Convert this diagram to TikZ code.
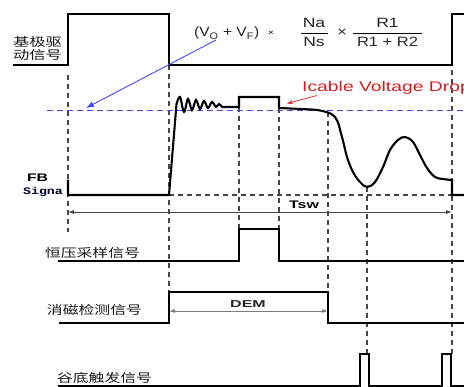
\documentclass[tikz,border=0pt]{standalone}
\usepackage{fontspec}
\setmainfont{Liberation Sans}
\newfontfamily\cjk{Noto Sans CJK SC}
\newfontfamily\monof{Liberation Mono}
\usetikzlibrary{arrows.meta}
\newcommand{\hs}[2][1.3]{\scalebox{#1}[1]{#2}}
\definecolor{sigred}{RGB}{208,32,32}
\definecolor{guideblue}{RGB}{70,70,250}
\definecolor{guidegray}{RGB}{70,70,70}
\tikzset{
  sig/.style={line width=2.1pt, line join=miter, black},
  guide/.style={line width=1.1pt, guidegray, dash pattern=on 5pt off 4pt},
  blueguide/.style={line width=1pt, guideblue, dash pattern=on 6pt off 4pt},
  lbl/.style={inner sep=0pt, text=black!90, font=\cjk\fontsize{12}{14}\selectfont},
  formula/.style={inner sep=0pt, text=black!85, font=\fontsize{13.5}{15}\selectfont},
  meas/.style={line width=0.8pt, guidegray, {Latex[length=6pt,width=4pt]}-{Latex[length=6pt,width=4pt]}},
}
\begin{document}
\begin{tikzpicture}[x=1pt,y=-1pt]
\clip (0,0) rectangle (464,387);
\fill[white] (0,0) rectangle (464,387);

% dashed guides
\draw[guide] (68,75) -- (68,232);
\draw[guide] (169,65) -- (169,292);
\draw[guide] (239,107) -- (239,229);
\draw[guide] (279,108) -- (279,229);
\draw[guide] (328,112) -- (328,292);
\draw[guide] (367,187) -- (367,354);
\draw[guide] (452,70) -- (452,354);
\draw[guide] (169,195) -- (452,195);
\draw[blueguide] (47,111) -- (464,111);

% base drive signal
\draw[sig] (13,65) -- (68,65) -- (68,14) -- (169,14) -- (169,65) -- (452,65) -- (452,14) -- (464,14);
\node[lbl, align=left] (lbase) at (37.5,48.5) {\hs[1.36]{基极驱}\\[-0.5pt]\hs[1.36]{动信号}};

% FB signal
\draw[sig] (68,180) -- (68,195) -- (169,195) -- (176.5,104)
  plot[smooth, tension=0.6] coordinates {(176.5,104) (180,97) (184,112) (188,99) (192,110) (196,100) (200,109) (204,101) (208,108) (212,102) (216,107) (219,104) (222,107)}
  -- (239,107) -- (239,97) -- (279,97) -- (279,108)
  plot[smooth, tension=0.6] coordinates {(279,108) (300,109) (320,110.5) (335,117) (342,137) (347,157) (353,172) (360,182) (367,187) (375,182) (383,167) (390,150) (398,140) (405,137) (413,142) (420,155) (427,168) (435,177) (443,179) (452,180)}
  -- (452,195) -- (464,195);
\node[inner sep=0pt, font=\bfseries\fontsize{11}{13}\selectfont] (lfb) at (37.5,177.5) {\hs[1.43]{FB}};
\node[inner sep=0pt, text=black!80!blue, font=\monof\bfseries\fontsize{10}{12}\selectfont] (lsig) at (43,191.5) {\hs[1.33]{Signa}};

% Tsw
\coordinate (tswL) at (68,212);
\coordinate (tswR) at (452,212);
\draw[meas] (tswL) -- (tswR);
\node[inner sep=0pt, font=\bfseries\fontsize{11}{13}\selectfont] (ltsw) at (304,205) {\hs[1.45]{Tsw}};

% CV sampling
\draw[sig] (58,261) -- (239,261) -- (239,229) -- (279,229) -- (279,261) -- (464,261);
\node[lbl] (lcv) at (92.5,253) {\hs[1.32]{恒压采样信号}};

% DEM
\draw[sig] (59,323) -- (169,323) -- (169,292) -- (328,292) -- (328,323) -- (464,323);
\node[lbl] (ldem) at (94.5,310) {\hs[1.32]{消磁检测信号}};
\coordinate (demL) at (169,311);
\coordinate (demR) at (328,311);
\draw[meas, guidegray!70] (demL) -- (demR);
\node[inner sep=0pt, font=\bfseries\fontsize{10}{12}\selectfont, text=black!85] (ldemt) at (248,304) {\hs[1.6]{DEM}};

% valley trigger
\draw[sig] (58,386) -- (360,386) -- (360,354) -- (369,354) -- (369,386) -- (442,386) -- (442,354) -- (451,354) -- (451,386) -- (464,386);
\node[lbl] (lval) at (104.5,378) {\hs[1.32]{谷底触发信号}};

% formula
\node[formula, anchor=base west] (fpar) at (194,37) {\hs[1.15]{(V\textsubscript{O} + V\textsubscript{F})}};
\node[inner sep=0pt, font=\fontsize{8}{9}\selectfont] (fx1) at (271,33) {\hs{×}};
\node[formula] (fna) at (314,23) {\hs{Na}};
\node[formula] (fns) at (314,42) {\hs{Ns}};
\draw[line width=0.6pt] (301,33) -- (328,33);
\node[formula] (fx2) at (342,33) {\hs[1.2]{×}};
\node[formula] (fr1) at (387.5,23) {\hs{R1}};
\node[formula] (fr12) at (387.5,42) {\hs[1.22]{R1 + R2}};
\draw[line width=0.6pt] (353,33) -- (422,33);
\coordinate (bstart) at (216,40);
\coordinate (bend) at (86,108);
\draw[guideblue, line width=0.9pt, -{Latex[length=8pt,width=6pt]}] (bstart) -- (bend);

% Icable voltage drop
\node[inner sep=0pt, anchor=base west, text=sigred, font=\fontsize{14}{16}\selectfont] (lic) at (302,92) {\hs[1.38]{Icable Voltage Drop}};
\coordinate (rstart) at (317,95.5);
\coordinate (rend) at (287,103.5);
\draw[sigred, line width=0.7pt, -{Stealth[length=6pt,width=4pt]}] (rstart) -- (rend);
\end{tikzpicture}
\end{document}
